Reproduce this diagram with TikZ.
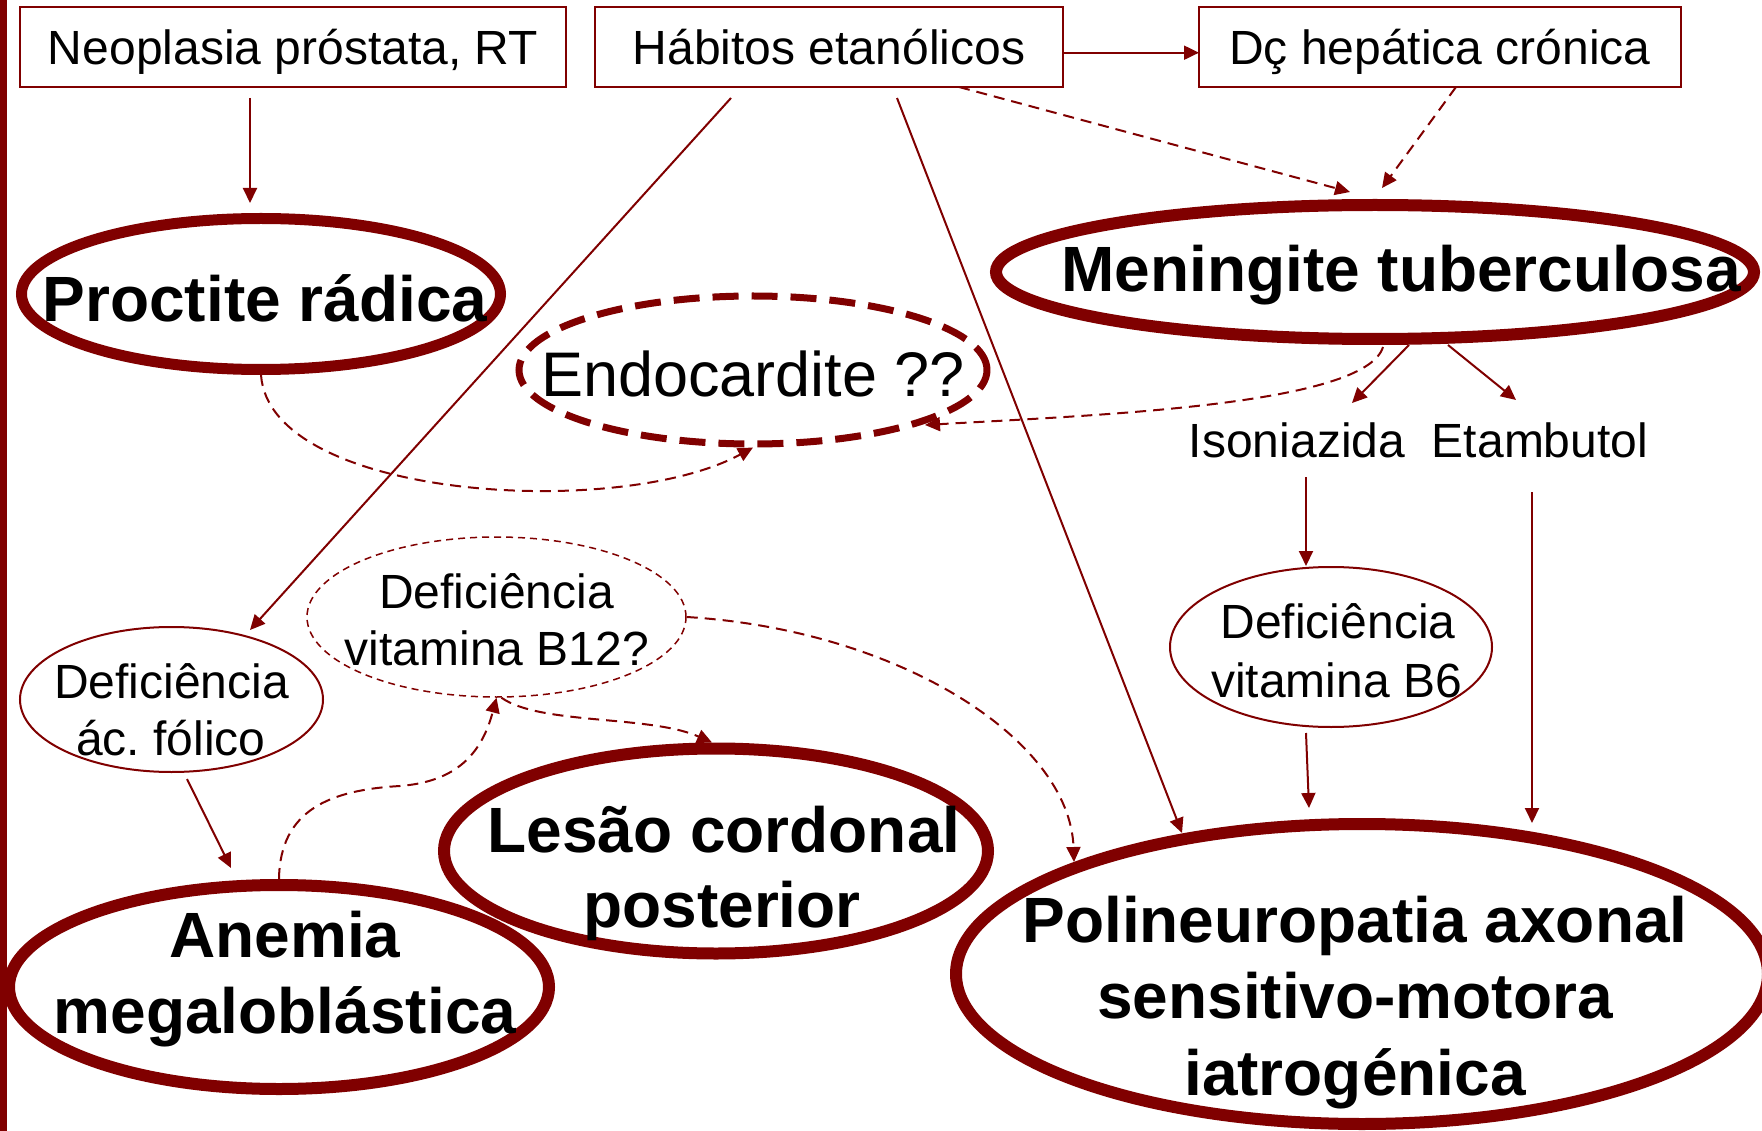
\documentclass[tikz,border=0pt]{standalone}
\usepackage{fontspec}
\setmainfont{Liberation Sans}
\usetikzlibrary{shapes.geometric,arrows.meta,calc}
\definecolor{mar}{RGB}{128,0,0}
\frenchspacing
\begin{document}
\begin{tikzpicture}[x=1pt,y=-1pt,
  boxn/.style={draw=mar,line width=2pt,minimum height=80pt,inner sep=0pt,outer sep=0pt,
    font=\fontsize{48}{58}\selectfont,text height=34.4pt,text depth=0pt},
  hell/.style={draw=mar,ellipse,line width=12pt,inner sep=0pt},
  tell/.style={draw=mar,ellipse,line width=2pt,inner sep=0pt},
  reg/.style={font=\fontsize{48}{58}\selectfont,inner sep=0pt,anchor=base},
  bld/.style={font=\fontsize{64}{77}\selectfont\bfseries,inner sep=0pt,anchor=base},
  arr/.style={draw=mar,line width=2pt,-{Triangle[length=15pt,width=14pt]}},
  darr/.style={arr,dash pattern=on 11pt off 7pt}
]
\useasboundingbox (0,0) rectangle (1762,1131);
\clip (0,0) rectangle (1762,1131);
\fill[white] (0,0) rectangle (1762,1131);
\fill[mar] (0,0) rectangle (6.5,1131);

% boxes
\node[boxn,minimum width=546pt] (neo) at (293,47) {Neoplasia próstata, RT};
\node[boxn,minimum width=468pt] (hab) at (829,47) {Hábitos etanólicos};
\node[boxn,minimum width=482pt] (dc) at (1440,47) {Dç hepática crónica};

% ellipses
\node[hell,line width=11pt,minimum width=479pt,minimum height=151pt] (proc) at (261,294) {};
\node[draw=mar,ellipse,inner sep=0pt,line width=7pt,dash pattern=on 26pt off 13pt,minimum width=468pt,minimum height=148pt] (endo) at (753,370) {};
\node[hell,minimum width=758pt,minimum height=134pt] (men) at (1375,272) {};
\node[tell,minimum width=322pt,minimum height=160pt] (b6) at (1331,647) {};
\node[tell,minimum width=303pt,minimum height=145pt] (fol) at (171.5,699.5) {};
\node[tell,line width=1.5pt,dash pattern=on 7pt off 5pt,minimum width=379pt,minimum height=160pt] (b12) at (496.5,617) {};
\node[hell,minimum width=540pt,minimum height=204pt] (anem) at (279,987) {};
\node[hell,minimum width=544pt,minimum height=205pt] (les) at (716,851) {};
\node[hell,minimum width=812pt,minimum height=300pt] (poli) at (1362,974) {};

% texts
\node[bld] (proct) at (265,322) {Proctite rádica};
\node[font=\fontsize{63}{75}\selectfont,inner sep=0pt,anchor=base] (endot) at (753,397) {Endocardite ??};
\node[bld] (ment) at (1401,292) {Meningite tuberculosa};
\node[reg] (iso) at (1297,457) {Isoniazida};
\node[reg] (eta) at (1540,457) {Etambutol};
\node[reg] (b6a) at (1338,638) {Deficiência};
\node[reg] (b6b) at (1336.5,697) {vitamina B6};
\node[reg] (fola) at (171.5,698) {Deficiência};
\node[reg] (folb) at (171,755) {ác. fólico};
\node[reg] (b12a) at (496.5,608) {Deficiência};
\node[reg] (b12b) at (497,665) {vitamina B12?};
\node[bld] (anema) at (285,957) {Anemia};
\node[bld] (anemb) at (285,1033) {megaloblástica};
\node[bld] (lesa) at (724,852) {Lesão cordonal};
\node[bld] (lesb) at (722,927) {posterior};
\node[bld] (polia) at (1355,942) {Polineuropatia axonal};
\node[bld] (polib) at (1355,1018) {sensitivo-motora};
\node[bld] (polic) at (1355,1095) {iatrogénica};

% connectors
\draw[arr] ($(neo.south)+(-43,11)$) -- ($(proc.north)+(-11,-10)$);
\draw[arr] ($(hab.south)+(-98,11)$) -- ($(fol.center)+(78.5,-69.5)$);
\draw[arr] ([yshift=-5.7pt]hab.east) -- ([yshift=-5.7pt]dc.west);
\draw[darr] ($(hab.south)+(130,0)$) -- ($(men.north)+(-25,-7)$);
\draw[darr] ($(dc.south)+(16,0)$) -- ($(men.north)+(7,-11)$);
\draw[arr] ($(hab.south)+(68,11)$) -- ($(poli.center)+(-180,-141)$);
\draw[arr] ($(men.south)+(34,0)$) -- ($(iso.base)+(55,-54)$);
\draw[arr] ($(men.south)+(73,0)$) -- ($(eta.base)+(-24,-57)$);
\draw[darr] ($(men.south)+(8,2)$) .. controls (1365,405) and (1100,415) .. ($(endo.center)+(172,55)$);
\draw[darr] (proc.south) .. controls (270,500) and (620,520) .. (endo.south);
\draw[arr] ($(iso.base)+(9,20)$) -- ($(b6.north)+(-25,0)$);
\draw[arr] ($(eta.base)+(-8,35)$) -- ($(poli.center)+(170,-151)$);
\draw[arr] ($(b6.south)+(-25,5)$) -- ($(poli.center)+(-53,-166)$);
\draw[arr] ($(fol.south)+(15.5,6)$) -- ($(anem.center)+(-48,-119)$);
\draw[darr] (anem.north) .. controls (280,810) and (330,790) .. (400,786) .. controls (450,782) and (480,760) .. (b12.south);
\draw[darr] ($(b12.south)+(5,0)$) .. controls (540,725) and (650,715) .. ($(les.north)+(-4,0)$);
\draw[darr] (b12.east) .. controls (900,630) and (1070,740) .. ($(poli.center)+(-288,-112)$);
\end{tikzpicture}
\end{document}
